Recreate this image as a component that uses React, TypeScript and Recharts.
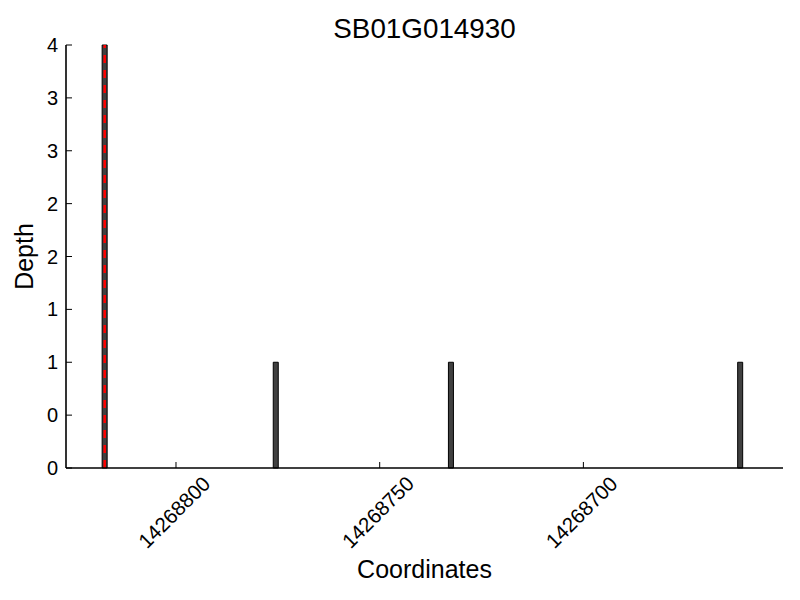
import { ComposedChart, Bar, XAxis, YAxis, ReferenceLine, Label } from 'recharts';

// coverage depth per genomic position (each bar spans [pos, pos + 1])
const positions = [14268817, 14268775, 14268732, 14268661];
const depths = [4, 1, 1, 1];
const xTicks = [14268700, 14268750, 14268800];
const yTicks = [0, 0.5, 1, 1.5, 2, 2.5, 3, 3.5, 4];
const xDomain = [14268651, 14268827];
const markerPos = 14268817;
const title = 'SB01G014930';

const data = positions.map((pos, i) => ({ pos: pos + 0.5, depth: depths[i] }));

const FONT = '"Liberation Sans", Arial, sans-serif';

const RotatedTick = ({ x, y, payload }: any) => (
  <text
    x={x - 2}
    y={y + 44}
    transform={`rotate(-45, ${x - 2}, ${y + 44})`}
    textAnchor="middle"
    dominantBaseline="central"
    fontFamily={FONT}
    fontSize={20.5}
    fill="#000"
  >
    {payload.value}
  </text>
);

export default function App() {
  return (
    <div style={{ position: 'absolute', left: 0, top: 0, width: 800, height: 600, background: '#fff' }}>
      <div
        style={{
          position: 'absolute', left: 66, top: 14.5, width: 717, textAlign: 'center',
          fontFamily: FONT, fontSize: 27.8, lineHeight: 1, color: '#000',
        }}
      >
        {title}
      </div>
      <ComposedChart
        width={800}
        height={600}
        data={data}
        margin={{ top: 45, right: 17, bottom: 0, left: 0 }}
      >
        <XAxis
          type="number"
          dataKey="pos"
          domain={xDomain}
          ticks={xTicks}
          reversed
          allowDataOverflow
          height={132}
          interval={0}
          tickSize={-6}
          tickMargin={6}
          stroke="#000"
          axisLine={{ stroke: '#000', strokeWidth: 1.6 }}
          tickLine={{ stroke: '#000' }}
          tick={<RotatedTick />}
        >
          <Label
            value="Coordinates"
            position="insideBottom"
            offset={22}
            style={{ fontFamily: FONT, fontSize: 25, fill: '#000' }}
          />
        </XAxis>
        <YAxis
          type="number"
          domain={[0, 4]}
          ticks={yTicks}
          width={66}
          interval={0}
          tickSize={-6}
          tickMargin={14}
          tickFormatter={(v: number) => String(Math.floor(v))}
          axisLine={{ stroke: '#000', strokeWidth: 1.6 }}
          tickLine={{ stroke: '#000' }}
          tick={{ fill: '#000', fontSize: 20, fontFamily: FONT }}
        >
          <Label
            value="Depth"
            angle={-90}
            position="insideLeft"
            offset={24}
            style={{ fontFamily: FONT, fontSize: 25, fill: '#000', textAnchor: 'middle' }}
          />
        </YAxis>
        <Bar
          dataKey="depth"
          barSize={5}
          fill="#404040"
          stroke="#000"
          strokeWidth={1}
          isAnimationActive={false}
        />
        <ReferenceLine x={markerPos + 0.5} stroke="#ff0000" strokeWidth={2.5} strokeDasharray="8 7" />
      </ComposedChart>
    </div>
  );
}
